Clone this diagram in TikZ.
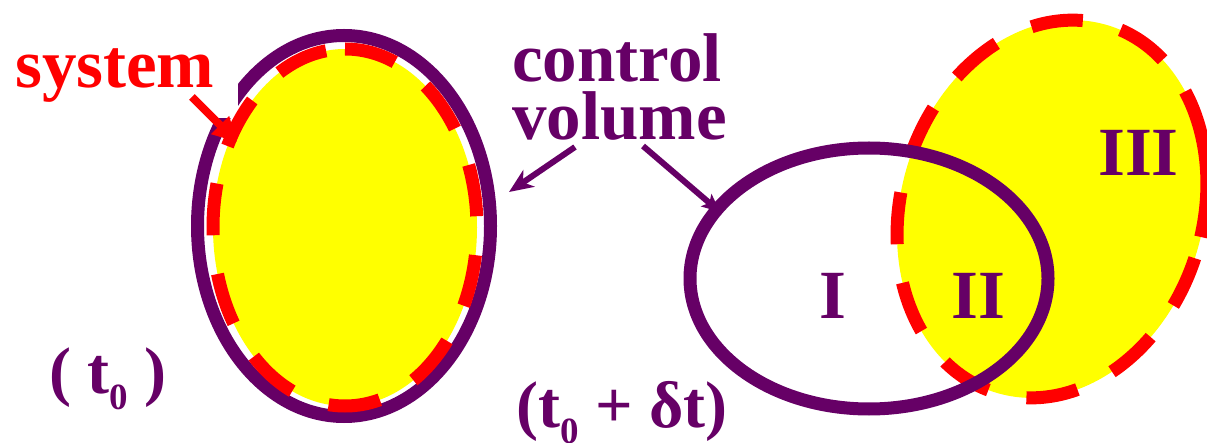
\documentclass[tikz,border=0pt]{standalone}
\usepackage{fontspec}
\setmainfont{Liberation Serif}
\usetikzlibrary{arrows.meta}
\definecolor{pur}{RGB}{102,0,102}
\definecolor{ylw}{RGB}{255,255,0}
\definecolor{rd}{RGB}{255,0,0}
\newcommand\subzero{\raisebox{-16pt}{\fontsize{37}{37}\selectfont 0}}
\begin{document}
\begin{tikzpicture}[x=1pt,y=1pt,
  lbl/.style={font=\fontsize{69}{58}\selectfont\bfseries, text=pur, inner sep=0pt, anchor=base west},
  tlbl/.style={font=\fontsize{66}{58}\selectfont\bfseries, text=pur, inner sep=0pt, anchor=base west},
  cvline/.style={draw=pur, line width=13pt},
  sysdash/.style={draw=rd, line width=13pt, dash pattern=on 52pt off 39pt},
  parrow/.style={draw=pur, line width=6pt, -{Stealth[length=24pt,width=20pt,inset=7pt]}},
  sarrow/.style={draw=rd, line width=8pt, -{Triangle[length=24pt,width=24pt]}}]
\useasboundingbox (0,0) rectangle (1207,442);
% left: control volume = system at t0
\draw[cvline] (344,216) ellipse [x radius=146.5, y radius=190.5];
\node[lbl, text=rd, fill=white, inner xsep=24pt, inner ysep=16pt, text depth=14pt] (sys) at (-9,354) {system};
\fill[ylw] (345,214.5) ellipse [x radius=132, y radius=178.5];
\draw[sysdash] (345,393) arc[start angle=90, end angle=-270, x radius=132, y radius=178.5];
\coordinate (sysA) at (192,345);
\coordinate (sysB) at (237,300);
\draw[sarrow] (sysA) -- (sysB);
% right: system at t0+dt
\begin{scope}[shift={(1052,233)}, rotate=-17]
  \fill[ylw] (0,0) ellipse [x radius=151, y radius=192];
  \draw[sysdash, dash phase=52pt] (52:151 and 192) arc[start angle=52, end angle=365, x radius=151, y radius=192];
  \draw[draw=rd, line width=13pt] (5:151 and 192) arc[start angle=5, end angle=52, x radius=151, y radius=192];
\end{scope}
\draw[cvline] (869,163.5) ellipse [x radius=179, y radius=130.5];
% labels
\node[lbl] (ctrl) at (512,360) {control};
\node[lbl] (vol) at (512,302) {volume};
\coordinate (cvL) at (509,250);
\coordinate (cvR) at (720,230);
\coordinate (cvLs) at (575,295);
\coordinate (cvRs) at (643,296);
\draw[parrow] (cvLs) -- (cvL);
\draw[parrow, -{Stealth[length=18pt,width=16pt,inset=4pt]}] (cvRs) -- (cvR);
\node[lbl] (r1) at (819,124) {I};
\node[lbl] (r2) at (951,124) {II};
\node[lbl] (r3) at (1098,266) {III};
\node[tlbl] (t0) at (49,49) {( t\subzero{} )};
\node[tlbl] (t1) at (516,15) {(t\subzero{} + δt)};
\end{tikzpicture}
\end{document}
